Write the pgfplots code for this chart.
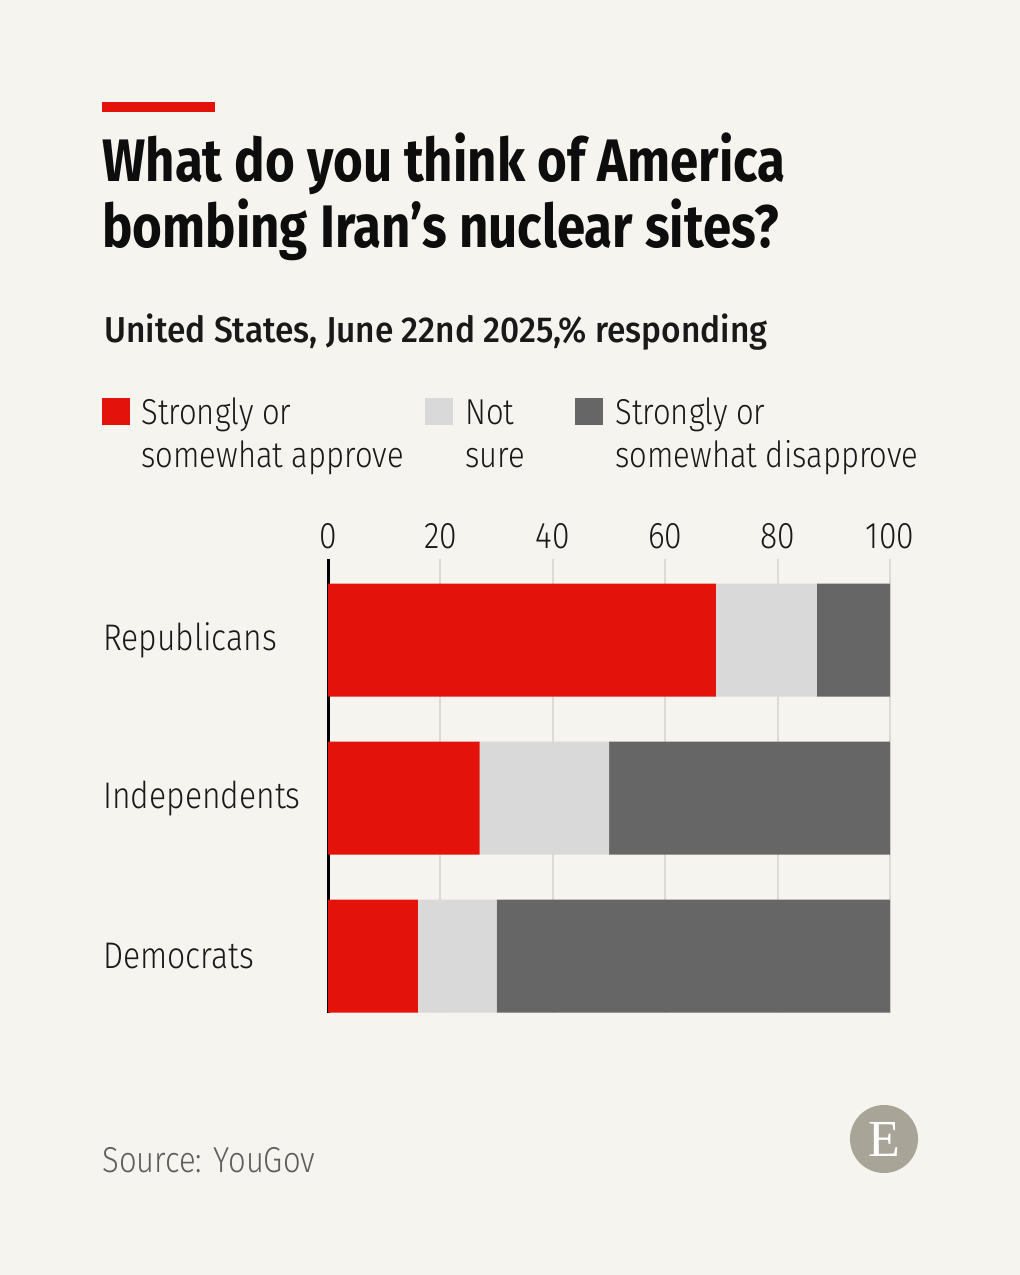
\documentclass[border=0pt]{standalone}
\usepackage{pgfplots}
\pgfplotsset{compat=1.18}
\usepackage{fontspec}
\setmainfont[FakeStretch=0.86]{Fira Sans}
\newfontfamily\titlefont[FakeStretch=0.85]{Fira Sans Bold}
\newfontfamily\subfont[FakeStretch=0.93]{Fira Sans Medium}
\newfontfamily\regfont[FakeStretch=0.86]{Fira Sans Light}
\newfontfamily\logofont{Liberation Serif}
\definecolor{bgcol}{HTML}{F6F4EF}
\definecolor{ered}{HTML}{E3120B}
\definecolor{lgrey}{HTML}{D9D9D9}
\definecolor{dgrey}{HTML}{666666}
\definecolor{gridc}{HTML}{DCDAD5}
\definecolor{srcc}{HTML}{5E5E5E}
\definecolor{logoc}{HTML}{A8A598}
\begin{document}
\begin{tikzpicture}[x=1pt,y=1pt]
\fill[bgcol] (0,0) rectangle (510,637.5);
\fill[ered] (51,581.5) rectangle (107.5,586.5);
\node[anchor=base west, inner sep=0, align=left, text=black!95, font={\titlefont\fontsize{30}{33}\selectfont}] at (51,513.5) {What do you think of America\\bombing Iran’s nuclear sites?};
\node[anchor=base west, inner sep=0, text=black!90, font={\subfont\fontsize{18}{21}\selectfont}] at (52,466) {United States, June 22nd 2025,\% responding};
% legend
\fill[ered] (51,425) rectangle (65,438.5);
\fill[lgrey] (212.5,425) rectangle (226.5,438.5);
\fill[dgrey] (287.5,425) rectangle (301.5,438.5);
\node[anchor=base west, inner sep=0, align=left, text=black!90, font={\regfont\fontsize{18}{21.5}\selectfont}] at (70.5,403.5) {Strongly or\\somewhat approve};
\node[anchor=base west, inner sep=0, align=left, text=black!90, font={\regfont\fontsize{18}{21.5}\selectfont}] at (232.5,403.5) {Not\\sure};
\node[anchor=base west, inner sep=0, align=left, text=black!90, font={\regfont\fontsize{18}{21.5}\selectfont}] at (307.5,403.5) {Strongly or\\somewhat disapprove};
\begin{axis}[
  at={(164pt,358pt)}, anchor=north west,
  width=281pt, height=227pt, scale only axis,
  xbar stacked, bar width=0.715,
  xmin=0, xmax=100,
  ymin=-0.513, ymax=2.36, y dir=reverse,
  xtick={0,20,40,60,80,100},
  xticklabel pos=top,
  xticklabel style={font={\regfont\fontsize{18.5}{20}\selectfont}, text=black!90, inner sep=0, yshift=5pt},
  /pgf/number format/assume math mode=true,
  ytick={0,1,2},
  yticklabels={Republicans,Independents,Democrats},
  yticklabel style={font={\regfont\fontsize{18.5}{20}\selectfont}, text=black!90, anchor=west, inner sep=0, xshift=-112.5pt},
  axis line style={draw=none},
  major tick style={draw=none},
  xmajorgrids, grid style={gridc, line width=1pt},
  clip=false,
]
\addplot[fill=ered, draw=none] coordinates {(69,0) (27,1) (16,2)};
\addplot[fill=lgrey, draw=none] coordinates {(18,0) (23,1) (14,2)};
\addplot[fill=dgrey, draw=none] coordinates {(13,0) (50,1) (70,2)};
\draw[black, line width=1.5pt] (axis cs:0,-0.513) -- (axis cs:0,2.36);
\end{axis}
\node[anchor=base west, inner sep=0, text=srcc, font={\regfont\fontsize{18}{21}\selectfont}] at (51,51) {Source: YouGov};
\fill[logoc] (442,68) circle (17);
\node[text=white, inner sep=0, font={\logofont\fontsize{26}{26}\selectfont}] at (442,68) {E};
\end{tikzpicture}
\end{document}
